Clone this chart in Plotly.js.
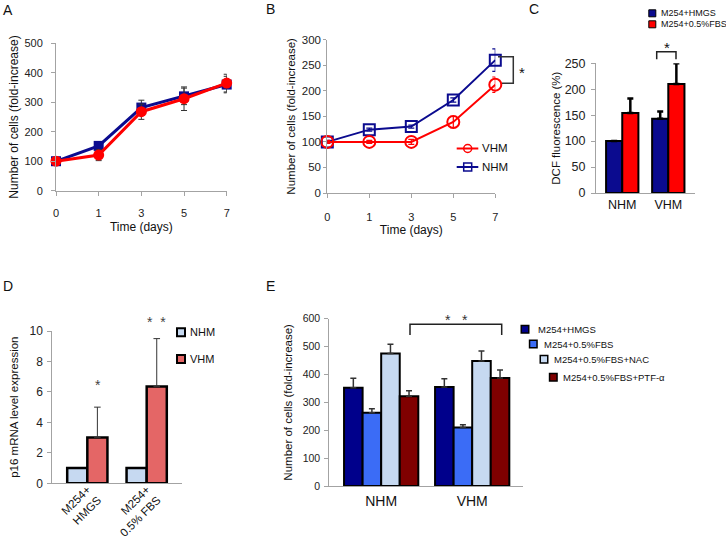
<!DOCTYPE html>
<html><head><meta charset="utf-8">
<script src="https://cdn.plot.ly/plotly-3.0.1.min.js"></script>
<style>html,body{margin:0;padding:0;background:#fff}#chart{width:726px;height:538px}</style>
</head><body><div id="chart"></div>
<script>
// ---------- Panel A ----------
const daysA = ['0', '1', '3', '5', '7'];
const aHMGS = [100, 152, 282, 320, 360];
const aHMGSerr = [6, 10, 25, 28, 28];
const aFBS = [100, 121, 268, 312, 365];
const aFBSerr = [6, 19, 26, 40, 30];
// ---------- Panel B ----------
const daysB = ['0', '1', '3', '5', '7'];
const bVHM = [100, 100, 100, 139, 212];
const bVHMerr = [3, 3, 5, 11, 15];
const bNHM = [100, 124, 130, 182, 260];
const bNHMerr = [3, 3, 3, 4, 22];
// ---------- Panel C ----------
const catC = ['NHM', 'VHM'];
const cHMGS = [100, 143];
const cHMGSerr = [0, 14];
const cFBS = [154, 210];
const cFBSerr = [28, 40];
// ---------- Panel D ----------
const catD = ['M254+<br>HMGS', 'M254+<br>0.5% FBS'];
const dNHM = [1, 1];
const dVHM = [3.0, 6.35];
const dVHMerr = [2.0, 3.15];
// ---------- Panel E ----------
const catE = ['NHM', 'VHM'];
const eHMGS = [352, 355];
const eHMGSerr = [34, 30];
const eFBS = [263, 210];
const eFBSerr = [14, 10];
const eNAC = [475, 448];
const eNACerr = [33, 36];
const ePTF = [322, 387];
const ePTFerr = [20, 29];

const legendC = ['M254+HMGS', 'M254+0.5%FBS'];
const legendD = ['NHM', 'VHM'];
const legendE = ['M254+HMGS', 'M254+0.5%FBS', 'M254+0.5%FBS+NAC', 'M254+0.5%FBS+PTF-α'];

const W = 726, H = 538;
const X = v => v / W;
const Y = v => 1 - v / H;
const FONT = 'Arial, "Liberation Sans", sans-serif';
const AX = '#a3a3a3';

const navy = '#0b0b8f', red = '#ff0000';
const eCols = ['#00008b', '#3b6cf6', '#c6d9f1', '#7f0000'];

function upErr(arr, th, w, col) {
  return {type: 'data', symmetric: false, array: arr, arrayminus: arr.map(() => 0), thickness: th, width: w, color: col || '#000'};
}

const traces = [
  // A
  {type: 'scatter', mode: 'lines+markers', x: daysA, y: aHMGS, xaxis: 'x', yaxis: 'y', cliponaxis: false,
   line: {color: navy, width: 3}, marker: {symbol: 'square', size: 10, color: navy},
   error_y: {type: 'data', array: aHMGSerr, thickness: 1, width: 3, color: '#333'}},
  {type: 'scatter', mode: 'lines+markers', x: daysA, y: aFBS, xaxis: 'x', yaxis: 'y', cliponaxis: false,
   line: {color: red, width: 3}, marker: {symbol: 'circle', size: 11, color: red},
   error_y: {type: 'data', array: aFBSerr, thickness: 1, width: 3, color: '#333'}},
  // B
  {type: 'scatter', mode: 'lines+markers', x: daysB, y: bNHM, xaxis: 'x2', yaxis: 'y2', cliponaxis: false,
   line: {color: navy, width: 2}, marker: {symbol: 'square-open', size: 11, color: navy, line: {width: 2, color: navy}},
   error_y: {type: 'data', array: bNHMerr, thickness: 1.2, width: 3, color: navy}},
  {type: 'scatter', mode: 'lines+markers', x: daysB, y: bVHM, xaxis: 'x2', yaxis: 'y2', cliponaxis: false,
   line: {color: red, width: 2}, marker: {symbol: 'circle-open', size: 12, color: red, line: {width: 2, color: red}},
   error_y: {type: 'data', array: bVHMerr, thickness: 1.2, width: 3, color: red}},
  // C
  {type: 'bar', x: catC, y: cHMGS, xaxis: 'x3', yaxis: 'y3', width: 0.351, offset: -0.351,
   marker: {color: navy, line: {color: '#000', width: 2}}, error_y: upErr(cHMGSerr, 2.5, 3)},
  {type: 'bar', x: catC, y: cFBS, xaxis: 'x3', yaxis: 'y3', width: 0.351, offset: 0,
   marker: {color: red, line: {color: '#000', width: 2}}, error_y: upErr(cFBSerr, 2.5, 3)},
  // D
  {type: 'bar', x: catD, y: dNHM, xaxis: 'x4', yaxis: 'y4', width: 0.339, offset: -0.339,
   marker: {color: '#c6d9f1', line: {color: '#000', width: 2.5}}},
  {type: 'bar', x: catD, y: dVHM, xaxis: 'x4', yaxis: 'y4', width: 0.339, offset: 0,
   marker: {color: '#e46666', line: {color: '#000', width: 2.5}}, error_y: upErr(dVHMerr, 1, 3.3, '#333')},
  // E
  {type: 'bar', x: catE, y: eHMGS, xaxis: 'x5', yaxis: 'y5', width: 0.204, offset: -0.408,
   marker: {color: eCols[0], line: {color: '#000', width: 2}}, error_y: upErr(eHMGSerr, 1.5, 3, '#333')},
  {type: 'bar', x: catE, y: eFBS, xaxis: 'x5', yaxis: 'y5', width: 0.204, offset: -0.204,
   marker: {color: eCols[1], line: {color: '#000', width: 2}}, error_y: upErr(eFBSerr, 1.5, 3, '#333')},
  {type: 'bar', x: catE, y: eNAC, xaxis: 'x5', yaxis: 'y5', width: 0.204, offset: 0,
   marker: {color: eCols[2], line: {color: '#000', width: 2}}, error_y: upErr(eNACerr, 1.5, 3, '#333')},
  {type: 'bar', x: catE, y: ePTF, xaxis: 'x5', yaxis: 'y5', width: 0.204, offset: 0.204,
   marker: {color: eCols[3], line: {color: '#000', width: 2}}, error_y: upErr(ePTFerr, 1.5, 3, '#333')}
];

function axisBase(extra) {
  return Object.assign({showline: true, linecolor: AX, linewidth: 1, showgrid: false, zeroline: false,
    ticks: 'outside', ticklen: 4, tickcolor: AX, tickwidth: 1, fixedrange: true,
    tickfont: {family: FONT, size: 11, color: '#222'}}, extra);
}

const shapes = [];
const annotations = [];
function txt(x, y, s, size, opts) {
  annotations.push(Object.assign({xref: 'paper', yref: 'paper', x: X(x), y: Y(y), text: s, showarrow: false,
    font: {family: FONT, size: size, color: '#111'}, xanchor: 'center', yanchor: 'middle'}, opts || {}));
}
function pathPx(pts, col, w) {
  let d = pts.map((p, i) => (i ? 'L' : 'M') + X(p[0]).toFixed(5) + ',' + Y(p[1]).toFixed(5)).join(' ');
  shapes.push({type: 'path', xref: 'paper', yref: 'paper', path: d, line: {color: col, width: w}});
}
function sq(cx, cy, s, fill, lw) {
  shapes.push({type: 'rect', xref: 'paper', yref: 'paper', x0: X(cx - s / 2), x1: X(cx + s / 2), y0: Y(cy + s / 2), y1: Y(cy - s / 2),
    fillcolor: fill, line: {color: '#000', width: lw}});
}

// panel letters
txt(7.5, 10, 'A', 14); txt(270, 9.5, 'B', 14); txt(534, 9.5, 'C', 14); txt(7.5, 286, 'D', 14); txt(270, 286, 'E', 14);

// B legend (line + marker samples)
pathPx([[456.7, 148.5], [478.3, 148.5]], red, 2);
shapes.push({type: 'circle', xref: 'paper', yref: 'paper', x0: X(463.7), x1: X(471.7), y0: Y(152.5), y1: Y(144.5), line: {color: red, width: 1.5}, fillcolor: 'rgba(0,0,0,0)'});
pathPx([[456.7, 167], [478.3, 167]], navy, 2);
shapes.push({type: 'rect', xref: 'paper', yref: 'paper', x0: X(463.7), x1: X(471.7), y0: Y(171), y1: Y(163), line: {color: navy, width: 1.5}, fillcolor: 'rgba(0,0,0,0)'});
txt(480, 148.5, 'VHM', 11.5, {xanchor: 'left'});
txt(480, 167, 'NHM', 11.5, {xanchor: 'left'});
// B significance
pathPx([[498, 56.7], [513.3, 56.7], [513.3, 83.3], [502, 83.3]], '#333', 1.5);
txt(522.3, 73, '*', 15);

// C legend
sq(652.3, 13.3, 7, navy, 1); sq(652.3, 24.3, 7, red, 1);
txt(658.5, 13.3, legendC[0], 9, {xanchor: 'left'});
txt(658.5, 24.3, legendC[1], 9, {xanchor: 'left'});
// C significance
pathPx([[656.7, 59.3], [656.7, 51.7], [676, 51.7], [676, 59.3]], '#222', 1.5);
txt(666.7, 47, '*', 15);

// D legend
sq(181, 332.3, 8, '#c6d9f1', 2); sq(181, 359, 8, '#e46666', 2);
txt(187.7, 332.3, legendD[0], 11, {xanchor: 'left'});
txt(187.7, 359, legendD[1], 11, {xanchor: 'left'});
// D stars
txt(97.7, 385, '*', 14, {font: {family: FONT, size: 14, color: '#444'}});
txt(156, 321.5, '*\u00a0\u00a0*', 14, {font: {family: FONT, size: 14, color: '#444'}});

// E legend (staircase)
const eLeg = [[525, 329.3, 536], [533.3, 344, 541.7], [544, 359.3, 552.3], [553.3, 377.3, 560.7]];
eLeg.forEach((p, i) => { sq(p[0], p[1], 7.5, eCols[i], 1.5); txt(p[2], p[1], legendE[i], 9.5, {xanchor: 'left'}); });
// E significance
pathPx([[410, 335], [410, 324.3], [501.7, 324.3], [501.7, 335]], '#222', 1.5);
txt(456, 320, '*\u00a0\u00a0\u00a0*', 14, {font: {family: FONT, size: 14, color: '#333'}});

const layout = {
  width: W, height: H, margin: {l: 0, r: 0, t: 0, b: 0}, paper_bgcolor: '#fff', plot_bgcolor: 'rgba(0,0,0,0)',
  showlegend: false, barmode: 'overlay', font: {family: FONT, color: '#111'},
  // A
  xaxis: axisBase({domain: [X(56), X(226.7)], anchor: 'y', type: 'category', range: [0, 4],
    tickfont: {family: FONT, size: 11, color: '#222'}, ticklabelstandoff: 8,
    title: {text: 'Time (days)', font: {family: FONT, size: 12, color: '#111'}, standoff: 4}}),
  yaxis: axisBase({domain: [Y(190.7), Y(43.3)], anchor: 'x', range: [0, 500], dtick: 100,
    tickfont: {family: FONT, size: 11, color: '#222'}, ticklabelstandoff: 6,
    title: {text: 'Number of cells (fold-increase)', font: {family: FONT, size: 12, color: '#111'}, standoff: 3}}),
  // B
  xaxis2: axisBase({domain: [X(327.3), X(495.3)], anchor: 'y2', type: 'category', range: [0, 4],
    tickfont: {family: FONT, size: 11, color: '#222'}, ticklabelstandoff: 10,
    title: {text: 'Time (days)', font: {family: FONT, size: 12, color: '#111'}, standoff: 2}}),
  yaxis2: axisBase({domain: [Y(193), Y(39.7)], anchor: 'x2', range: [0, 300], dtick: 50, ticklen: 3,
    tickfont: {family: FONT, size: 11.5, color: '#222'},
    title: {text: 'Number of cells (fold-increase)', font: {family: FONT, size: 11.5, color: '#111'}, standoff: 3}}),
  // C
  xaxis3: axisBase({domain: [X(596), X(695)], anchor: 'y3', type: 'category', range: [-0.57, 1.58], ticks: '',
    tickfont: {family: FONT, size: 12.5, color: '#111'}, ticklabelstandoff: 0}),
  yaxis3: axisBase({domain: [Y(193), Y(63.3)], anchor: 'x3', range: [0, 250], dtick: 50,
    tickfont: {family: FONT, size: 12.5, color: '#222'}, ticklabelstandoff: 3,
    title: {text: 'DCF fluorescence (%)', font: {family: FONT, size: 11.5, color: '#111'}, standoff: 1}}),
  // D
  xaxis4: axisBase({domain: [X(52.3), X(181.7)], anchor: 'y4', type: 'category', range: [-0.59, 1.59], ticks: '',
    tickangle: -45, tickfont: {family: FONT, size: 11.5, color: '#111'}, ticklabelstandoff: -6}),
  yaxis4: axisBase({domain: [Y(483.3), Y(331)], anchor: 'x4', range: [0, 10], dtick: 2,
    tickfont: {family: FONT, size: 12, color: '#222'}, ticklabelstandoff: 2,
    title: {text: 'p16 mRNA level expression', font: {family: FONT, size: 11.5, color: '#111'}, standoff: 8}}),
  // E
  xaxis5: axisBase({domain: [X(329.3), X(522.7)], anchor: 'y5', type: 'category', range: [-0.57, 1.555], ticks: '',
    tickfont: {family: FONT, size: 14, color: '#111'}, ticklabelstandoff: 2}),
  yaxis5: axisBase({domain: [Y(486), Y(318.7)], anchor: 'x5', range: [0, 600], dtick: 100,
    tickfont: {family: FONT, size: 10.5, color: '#222'}, ticklabelstandoff: 2,
    title: {text: 'Number of cells (fold-increase)', font: {family: FONT, size: 11.5, color: '#111'}, standoff: 7}}),
  shapes: shapes,
  annotations: annotations
};

Plotly.newPlot('chart', traces, layout, {staticPlot: true, displayModeBar: false});
</script>
</body></html>
